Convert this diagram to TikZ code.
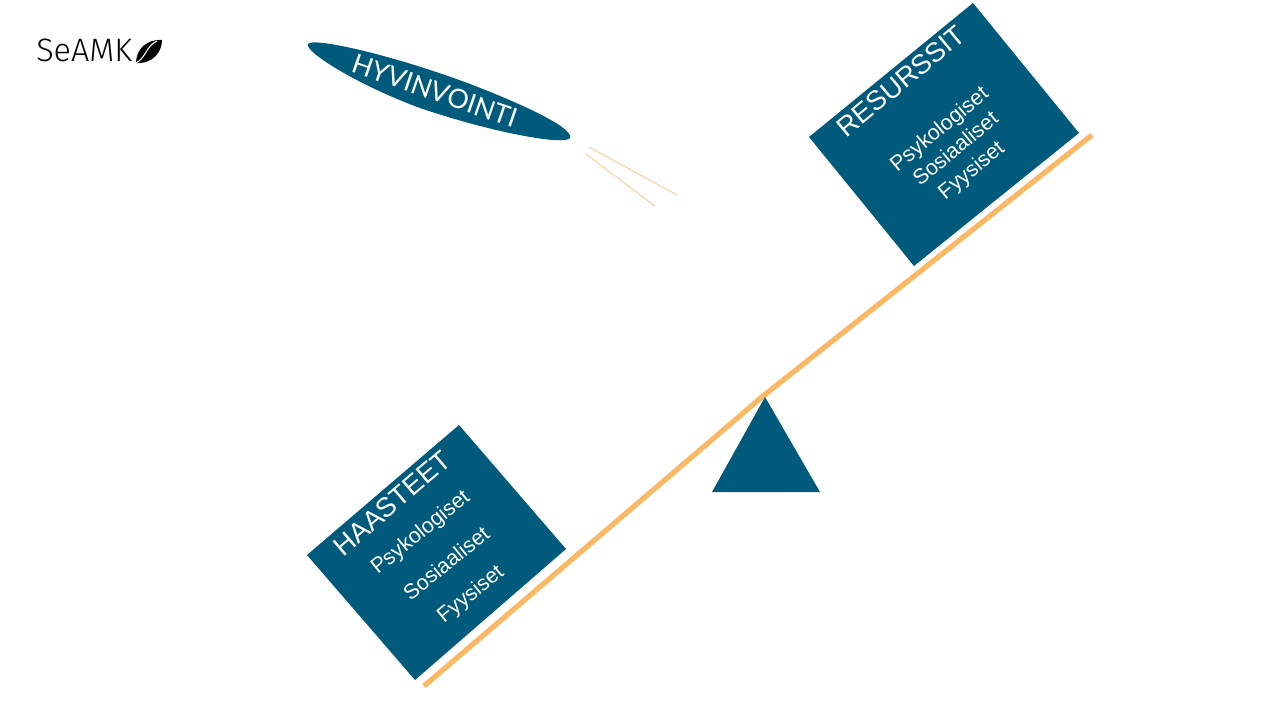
\documentclass[tikz,border=0pt]{standalone}
\usepackage{fontspec}
\setmainfont{Liberation Sans}
\newfontfamily\gillish{Lato}
\newfontfamily\logofont{Fira Sans Light}
\definecolor{sblue}{HTML}{005A7C}
\definecolor{sorange}{HTML}{FBB864}
\tikzset{
  panel/.style={fill=sblue,draw=none},
  beamline/.style={draw=sorange,line width=3.9pt,line join=round},
  thinline/.style={draw=sorange,line width=0.45pt},
  headtext/.style={text=white,font=\fontsize{20.5}{24}\selectfont,inner sep=0pt,anchor=center},
  subtext/.style={text=white,font=\fontsize{16}{19}\selectfont,inner sep=0pt,anchor=center},
}
\begin{document}
\begin{tikzpicture}[x=0.75pt,y=-0.75pt]
\useasboundingbox (0,0) rectangle (1280,720);
% beam
\coordinate (beamL) at (424,686);
\coordinate (beamM) at (763,396);
\coordinate (beamR) at (1092,135);
\draw[beamline] (beamL) -- (beamM) -- (beamR);
% fulcrum
\fill[panel] (765,397) -- (820,492) -- (712,492) -- cycle;
% panels
\fill[panel] (973,3) -- (1079,133) -- (914,266) -- (809,137) -- cycle;
\fill[panel] (459,425) -- (566,549) -- (415,680) -- (307,555) -- cycle;
% ellipse
\fill[panel] (308,44) .. controls (312,37) and (390,54) .. (470,84) .. controls (530,107) and (574,129) .. (570,138) .. controls (565,146) and (490,132) .. (420,108) .. controls (360,86) and (304,52) .. (308,44) -- cycle;
\node[text=white,font=\gillish\fontsize{20}{24}\selectfont,inner sep=0pt,rotate=-19] (hyv) at (435,91) {HYVINVOINTI};
% thin lines
\coordinate (t1a) at (589,147); \coordinate (t1b) at (677,195);
\coordinate (t2a) at (586,154); \coordinate (t2b) at (655,206);
\draw[thinline] (t1a) -- (t1b);
\draw[thinline] (t2a) -- (t2b);
% resurssit
\node[headtext,rotate=39.5] (res) at (901,81) {RESURSSIT};
\node[subtext,rotate=39.5] (r1) at (940,130) {Psykologiset};
\node[subtext,rotate=39.5] (r2) at (955,148) {Sosiaaliset};
\node[subtext,rotate=39.5] (r3) at (972,171) {Fyysiset};
% haasteet
\node[headtext,rotate=40.5] (haa) at (392,503) {HAASTEET};
\node[subtext,rotate=39] (h1) at (421,533) {Psykologiset};
\node[subtext,rotate=39] (h2) at (446,563) {Sosiaaliset};
\node[subtext,rotate=39] (h3) at (471,595) {Fyysiset};
% logo
\node[font=\logofont\fontsize{24.3}{26}\selectfont,text=black,inner sep=0pt,anchor=base west] (logo) at (36,62) {SeAMK};
\fill[black] (136,63) .. controls (136,50) and (146,39) .. (162,40) .. controls (162,52) and (153,64) .. (136,63) -- cycle;
\draw[white,line width=0.8pt] (136,63) .. controls (146,58) and (146,46) .. (157,41);
\end{tikzpicture}
\end{document}
